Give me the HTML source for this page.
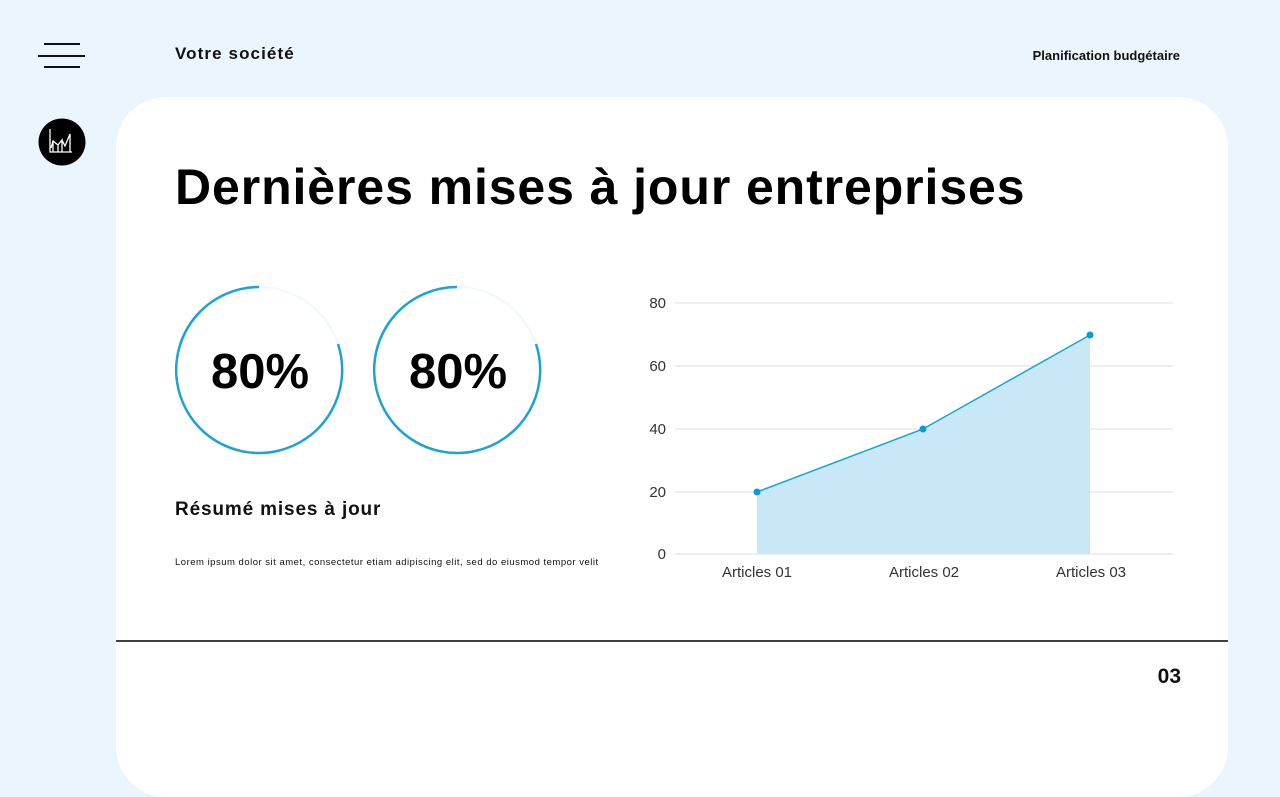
<!DOCTYPE html>
<html><head><meta charset="utf-8"><style>
body{margin:0;width:1280px;height:720px;overflow:hidden;background:#eaf5fd;font-family:"Liberation Sans",sans-serif;position:relative}
.a{position:absolute}
</style></head><body>
<div class="a" style="left:44px;top:43px;width:36px;height:2px;background:#111"></div>
<div class="a" style="left:38px;top:55px;width:47px;height:2px;background:#111"></div>
<div class="a" style="left:44px;top:66px;width:36px;height:2px;background:#111"></div>
<svg class="a" style="left:38px;top:118px" width="48" height="48" viewBox="0 0 48 48">
<circle cx="24" cy="24" r="23.5" fill="#000"/>
<path d="M12 11V34H34M13 30L15 23L20 27L24 22V34M24 22L27 28L32 16V34M20 27V34M15 23V34" stroke="#fff" stroke-width="1.3" fill="none"/>
</svg>
<div class="a" style="left:175px;top:44px;font-size:17px;font-weight:bold;color:#111;letter-spacing:1.1px">Votre société</div>
<div class="a" style="left:1000px;top:48px;width:180px;text-align:right;font-size:13px;font-weight:bold;color:#111">Planification budgétaire</div>
<div class="a" style="left:116px;top:97px;width:1112px;height:700px;background:#fff;border-radius:50px"></div>
<div class="a" style="left:175px;top:158px;font-size:50px;font-weight:bold;color:#000;letter-spacing:0.9px">Dernières mises à jour entreprises</div>
<svg class="a" style="left:0;top:0" width="1280" height="720">
<g fill="none" stroke-width="2.5">
<circle cx="259" cy="370" r="83" stroke="#f3f8fb"/>
<circle cx="457" cy="370" r="83" stroke="#f3f8fb"/>
<path d="M338 344 A83 83 0 1 1 259 287" stroke="#1ba3d6"/>
<path d="M536 344 A83 83 0 1 1 457 287" stroke="#1ba3d6"/>
</g>
<text x="260" y="388" font-size="49" font-weight="bold" text-anchor="middle" font-family="Liberation Sans">80%</text>
<text x="458" y="388" font-size="49" font-weight="bold" text-anchor="middle" font-family="Liberation Sans">80%</text>
<g stroke="#e4e4e4" stroke-width="1.2">
<line x1="675" y1="303" x2="1173" y2="303"/><line x1="675" y1="366" x2="1173" y2="366"/>
<line x1="675" y1="429" x2="1173" y2="429"/><line x1="675" y1="492" x2="1173" y2="492"/>
<line x1="675" y1="554" x2="1173" y2="554"/></g>
<g font-size="15" fill="#333" text-anchor="end" font-family="Liberation Sans">
<text x="666" y="308">80</text><text x="666" y="371">60</text><text x="666" y="434">40</text><text x="666" y="497">20</text><text x="666" y="559">0</text></g>
<g font-size="15" fill="#333" text-anchor="middle" font-family="Liberation Sans">
<text x="757" y="577">Articles 01</text><text x="924" y="577">Articles 02</text><text x="1091" y="577">Articles 03</text></g>
<path d="M757 492L923 429L1090 335V554H757Z" fill="#c9e8f7"/>
<path d="M757 492L923 429L1090 335" fill="none" stroke="#1ba3d6" stroke-width="1.5"/>
<g fill="#0a9bd6"><circle cx="757" cy="492" r="3.5"/><circle cx="923" cy="429" r="3.5"/><circle cx="1090" cy="335" r="3.5"/></g>
<line x1="116" y1="641" x2="1228" y2="641" stroke="#000" stroke-width="1.5"/>
</svg>
<div class="a" style="left:175px;top:499px;font-size:19px;font-weight:bold;color:#111;letter-spacing:0.85px">Résumé mises à jour</div>
<div class="a" style="left:175px;top:557px;font-size:9.5px;color:#111;letter-spacing:0.5px">Lorem ipsum dolor sit amet, consectetur etiam adipiscing elit, sed do eiusmod tempor velit</div>
<div class="a" style="left:1140px;top:665px;width:41px;text-align:right;font-size:21px;font-weight:bold;color:#111">03</div>
</body></html>
